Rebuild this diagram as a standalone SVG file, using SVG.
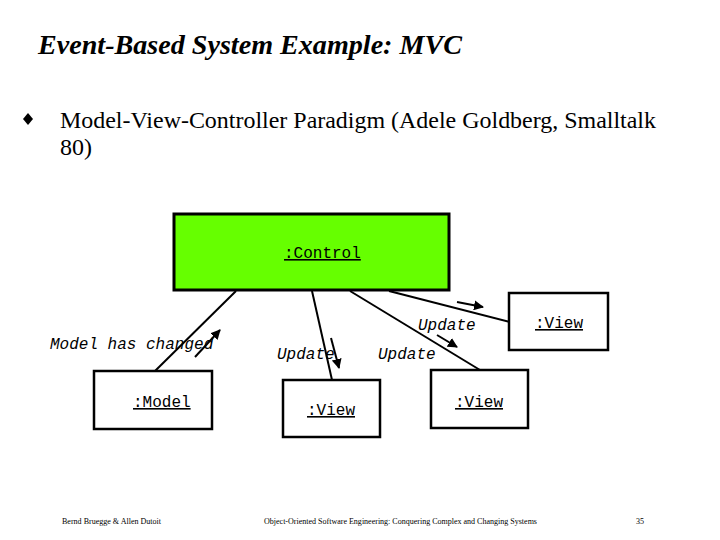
<svg xmlns="http://www.w3.org/2000/svg" width="720" height="540" viewBox="0 0 720 540">
<defs>
<marker id="ah" viewBox="0 0 10 10" refX="9" refY="5" markerWidth="5" markerHeight="5" orient="auto" markerUnits="strokeWidth">
<path d="M0,0 L10,5 L0,10 z" fill="#000"/>
</marker>
<style>
.box{fill:#fff;stroke:#000;stroke-width:2.5}
.ctl{fill:#66ff00;stroke:#000;stroke-width:3}
.lbl{font-family:"Liberation Mono",monospace;font-size:16px;fill:#000;text-decoration:underline}
.msg{font-family:"Liberation Mono",monospace;font-size:16px;font-style:italic;fill:#000}
.link{stroke:#000;stroke-width:2;fill:none}
.arr{stroke:#000;stroke-width:2;fill:none;marker-end:url(#ah)}
.title{font-family:"Liberation Serif",serif;font-size:28px;font-style:italic;font-weight:bold;fill:#000}
.body{font-family:"Liberation Serif",serif;font-size:24px;fill:#000}
.foot{font-family:"Liberation Serif",serif;font-size:8px;fill:#000}
</style>
</defs>
<rect width="720" height="540" fill="#fff"/>
<text class="title" x="38" y="54" textLength="424" lengthAdjust="spacingAndGlyphs">Event-Based System Example: MVC</text>
<path d="M28,113 L33,119 L28,125 L23,119 z" fill="#000"/>
<text class="body" x="60" y="128" textLength="596" lengthAdjust="spacingAndGlyphs">Model-View-Controller Paradigm (Adele Goldberg, Smalltalk</text>
<text class="body" x="60" y="155">80)</text>

<g id="connectors">
<line class="link" x1="236" y1="291" x2="155" y2="371"/>
<line class="link" x1="312" y1="291" x2="332" y2="380"/>
<line class="link" x1="350" y1="291" x2="480" y2="370"/>
<line class="link" x1="389" y1="291" x2="510" y2="322"/>
<line class="arr" x1="195" y1="357" x2="220" y2="330"/>
<line class="arr" x1="331" y1="338" x2="339" y2="368"/>
<line class="arr" x1="437" y1="335" x2="457" y2="347"/>
<line class="arr" x1="457" y1="302" x2="483" y2="307"/>
<text class="msg" x="50" y="349">Model has changed</text>
<text class="msg" x="277" y="359">Update</text>
<text class="msg" x="378" y="359">Update</text>
<text class="msg" x="418" y="330">Update</text>
</g>

<g id="control">
<rect class="ctl" x="174" y="214" width="275" height="76"/>
<text class="lbl" x="284" y="258">:Control</text>
</g>
<g id="model">
<rect class="box" x="94" y="371" width="118" height="58"/>
<text class="lbl" x="133" y="407">:Model</text>
</g>
<g id="view1">
<rect class="box" x="283" y="380" width="97" height="57"/>
<text class="lbl" x="307" y="415">:View</text>
</g>
<g id="view2">
<rect class="box" x="509" y="293" width="99" height="57"/>
<text class="lbl" x="535" y="328">:View</text>
</g>
<g id="view3">
<rect class="box" x="431" y="370" width="97" height="58"/>
<text class="lbl" x="455" y="407">:View</text>
</g>

<text class="foot" x="62" y="524" textLength="99" lengthAdjust="spacingAndGlyphs">Bernd Bruegge &amp; Allen Dutoit</text>
<text class="foot" x="264" y="524" textLength="273" lengthAdjust="spacingAndGlyphs">Object-Oriented Software Engineering: Conquering Complex and Changing Systems</text>
<text class="foot" x="636" y="524">35</text>
</svg>
